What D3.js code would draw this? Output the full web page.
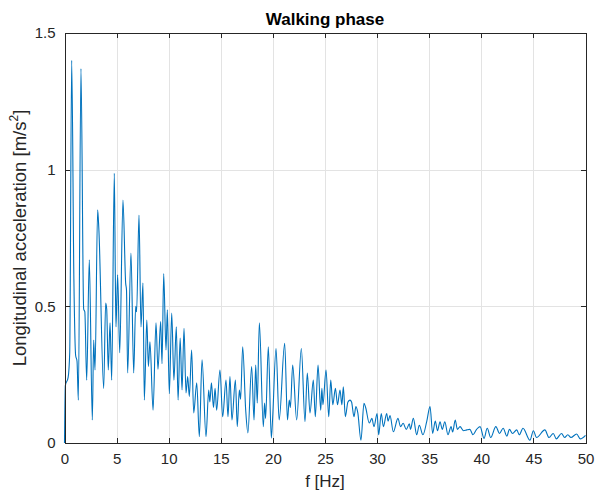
<!DOCTYPE html>
<meta charset="utf-8">
<head>
  <script src="https://cdn.jsdelivr.net/npm/d3@7"></script>
  <style>
    body { margin: 0; background: #fff; }
    svg { font-family: "Liberation Sans", Arial, sans-serif; }
    .axis path, .axis line { fill: none; stroke: #262626; shape-rendering: crispEdges; }
    .axis text { font-size: 15px; fill: #262626; }
    .grid line { stroke: #e3e3e3; shape-rendering: crispEdges; }
    .grid path { display: none; }
  </style>
</head>
<body>
<script>
// frequency (Hz) of each read point, peaks and troughs
var freq = [0, 0.08, 0.35, 0.5, 0.69, 0.9, 1.07, 1.2, 1.33, 1.58, 1.84, 1.95, 2.13, 2.38, 2.67, 2.8, 2.93,
  3.18, 3.3, 3.76, 3.95, 4.05, 4.2, 4.37, 4.53, 4.78, 4.88, 4.94, 5.1, 5.3, 5.61, 5.87, 5.95, 6.06, 6.38,
  6.64, 6.83, 6.92, 7.15, 7.34, 7.53, 7.66, 7.9, 8.05, 8.2, 8.5, 8.78, 8.97, 9.23, 9.36, 9.52, 9.74, 9.87,
  10.06, 10.29, 10.5, 10.73, 10.9, 11.1, 11.28, 11.47, 11.66, 11.82, 11.98, 12.2, 12.4, 12.69, 12.94, 13.2,
  13.58, 13.84, 13.95, 14.1, 14.3, 14.45, 14.6, 14.92, 15.18, 15.5, 15.69, 15.88, 16.07, 16.4, 16.58, 16.78,
  16.9, 17.1, 17.39, 17.6, 17.96, 18.19, 18.35, 18.5, 18.7, 19.08, 19.2, 19.3, 19.56, 19.85, 19.98, 20.3,
  20.6, 21.13, 21.4, 21.57, 21.68, 21.9, 22.28, 22.73, 23.08, 23.3, 23.56, 23.88, 24.07, 24.33, 24.59, 24.7,
  24.8, 25.1, 25.36, 25.55, 25.75, 26.0, 26.2, 26.44, 26.62, 26.76, 26.95, 27.2, 27.4, 27.55, 27.78, 27.97,
  28.15, 28.45, 28.74, 28.9, 29.25, 29.5, 29.7, 30.0, 30.15, 30.4, 30.6, 30.92, 31.05, 31.24, 31.56, 32.0,
  32.25, 32.5, 32.8, 33.1, 33.2, 33.48, 33.8, 34.05, 34.4, 34.76, 35.08, 35.33, 35.58, 35.8, 36.04, 36.25,
  36.5, 36.8, 37.1, 37.25, 37.5, 37.7, 37.96, 38.3, 38.6, 38.9, 39.2, 39.55, 39.88, 40.26, 40.57, 40.9,
  41.4, 41.75, 42.1, 42.45, 42.7, 43.0, 43.4, 43.65, 44.0, 44.67, 45.0, 45.3, 46.1, 46.5, 46.9, 47.2, 47.7,
  48.0, 48.3, 48.6, 49.15, 49.5, 50.0];

// amplitude (m/s^2) at each of those frequencies
var accel = [0, 0.21, 0.24, 0.33, 1.40, 0.6, 0.32, 0.30, 0.157, 1.37, 0.49, 0.48, 0.23, 0.67, 0.084, 0.377, 0.267,
  0.853, 0.78, 0.2, 0.512, 0.49, 0.267, 0.44, 0.23, 0.987, 0.6, 0.425, 0.615, 0.33, 0.889, 0.585, 0.56, 0.256, 0.695,
  0.256, 0.5, 0.48, 0.834, 0.425, 0.585, 0.157, 0.45, 0.28, 0.37, 0.12, 0.44, 0.27, 0.444, 0.29, 0.62, 0.34, 0.487,
  0.18, 0.475, 0.23, 0.425, 0.157, 0.384, 0.194, 0.42, 0.183, 0.243, 0.17, 0.34, 0.11, 0.22, 0.023, 0.304,
  0.023, 0.194, 0.15, 0.22, 0.13, 0.2, 0.12, 0.267, 0.096, 0.23, 0.096, 0.243, 0.084, 0.23, 0.06, 0.194,
  0.16, 0.352, 0.12, 0.037, 0.28, 0.084, 0.285, 0.146, 0.44, 0.06, 0.146, 0.09, 0.352, 0.018, 0.096, 0.346,
  0.084, 0.365, 0.084, 0.157, 0.13, 0.285, 0.084, 0.346, 0.078, 0.256, 0.11, 0.23, 0.096, 0.285, 0.12, 0.2,
  0.14, 0.267, 0.096, 0.23, 0.14, 0.2, 0.14, 0.194, 0.14, 0.206, 0.096, 0.15, 0.157, 0.15, 0.096, 0.133,
  0.11, 0.01, 0.145, 0.13, 0.073, 0.09, 0.06, 0.108, 0.03, 0.108, 0.06, 0.108, 0.08, 0.1, 0.041, 0.09,
  0.06, 0.072, 0.05, 0.07, 0.05, 0.09, 0.03, 0.065, 0.03, 0.078, 0.133, 0.035, 0.08, 0.045, 0.078, 0.05,
  0.078, 0.03, 0.06, 0.04, 0.084, 0.05, 0.06, 0.045, 0.048, 0.05, 0.03, 0.05, 0.06, 0.017, 0.054, 0.02,
  0.06, 0.035, 0.054, 0.025, 0.05, 0.035, 0.048, 0.03, 0.054, 0.01, 0.045, 0.02, 0.048, 0.02, 0.035, 0.015, 0.035,
  0.02, 0.03, 0.02, 0.033, 0.015, 0.028];

var xTicks = [0, 5, 10, 15, 20, 25, 30, 35, 40, 45, 50];
var yTicks = [0, 0.5, 1, 1.5];

var margin = {top: 33, right: 10.5, bottom: 52, left: 64.5},
    W = 596, H = 495,
    w = W - margin.left - margin.right,
    h = H - margin.top - margin.bottom;

var svg = d3.select("body").append("svg")
    .attr("width", W)
    .attr("height", H);

var g = svg.append("g")
    .attr("transform", "translate(" + margin.left + "," + margin.top + ")");

var xScale = d3.scaleLinear().domain([0, 50]).range([0, w]);
var yScale = d3.scaleLinear().domain([0, 1.5]).range([h, 0]);

// grid
g.append("g").attr("class", "grid")
  .attr("transform", "translate(0," + h + ")")
  .call(d3.axisBottom(xScale).tickValues(xTicks).tickSize(-h).tickFormat(""));
g.append("g").attr("class", "grid")
  .call(d3.axisLeft(yScale).tickValues(yTicks).tickSize(-w).tickFormat(""));

// data line
var pts = freq.map(function(f, i) { return [f, accel[i]]; });
g.append("path")
  .datum(pts)
  .attr("fill", "none")
  .attr("stroke", "#0072BD")
  .attr("stroke-width", 1.1)
  .attr("stroke-linejoin", "round")
  .attr("d", d3.line()
      .x(function(d) { return xScale(d[0]); })
      .y(function(d) { return yScale(d[1]); })
      .curve(d3.curveMonotoneX));

// axes with inward ticks
g.append("g").attr("class", "axis")
  .attr("transform", "translate(0," + h + ")")
  .call(d3.axisBottom(xScale).tickValues(xTicks).tickSizeInner(-5).tickSizeOuter(0).tickPadding(10)
    .tickFormat(d3.format("d")));
g.append("g").attr("class", "axis")
  .call(d3.axisLeft(yScale).tickValues(yTicks).tickSizeInner(-5).tickSizeOuter(0).tickPadding(9)
    .tickFormat(function(d) { return d; }));
g.append("g").attr("class", "axis")
  .call(d3.axisTop(xScale).tickValues(xTicks).tickSizeInner(-5).tickSizeOuter(0).tickFormat(""));
g.append("g").attr("class", "axis")
  .attr("transform", "translate(" + w + ",0)")
  .call(d3.axisRight(yScale).tickValues(yTicks).tickSizeInner(-5).tickSizeOuter(0).tickFormat(""));

// title and labels
svg.append("text")
  .attr("x", margin.left + w / 2)
  .attr("y", 25)
  .attr("text-anchor", "middle")
  .style("font-size", "17px")
  .style("font-weight", "bold")
  .style("fill", "#000")
  .text("Walking phase");

svg.append("text")
  .attr("x", margin.left + w / 2)
  .attr("y", 487)
  .attr("text-anchor", "middle")
  .style("font-size", "17px")
  .style("fill", "#262626")
  .text("f [Hz]");

var yl = svg.append("text")
  .attr("transform", "translate(26," + (margin.top + h / 2) + ") rotate(-90)")
  .attr("text-anchor", "middle")
  .style("font-size", "18.5px")
  .style("fill", "#262626");
yl.append("tspan").text("Longitudinal acceleration [m/s");
yl.append("tspan").attr("dy", -8).style("font-size", "12px").text("2");
yl.append("tspan").attr("dy", 8).text("]");
</script>
</body>
